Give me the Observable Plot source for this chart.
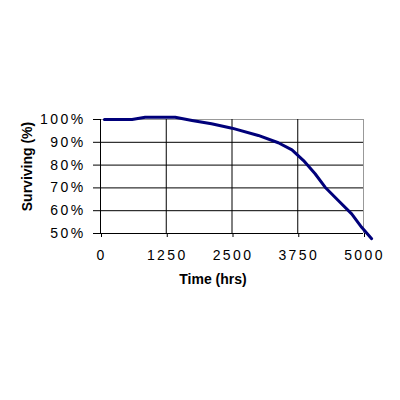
<!DOCTYPE html>
<html>
<head>
<meta charset="utf-8">
<script src="https://cdn.jsdelivr.net/npm/d3@7"></script>
<script src="https://cdn.jsdelivr.net/npm/@observablehq/plot@0.6"></script>
<style>
  html, body { margin: 0; padding: 0; background: #fff; }
  #chart svg { display: block; }
  #chart g[aria-label$="tick label"] text { letter-spacing: 2.4px; }
</style>
</head>
<body>
<div id="chart"></div>
<script>
const timeHrs = [75, 600, 850, 1420, 1740, 2110, 2500, 3000, 3380, 3640, 3860, 4080, 4270, 4520, 4775, 4965, 5155];
const surviving = [100, 100, 101, 101, 99.6, 98.1, 96.2, 93, 89.8, 86.7, 82, 76.2, 70.3, 64.5, 58.6, 52.7, 47.7];
const xTicks = [0, 1250, 2500, 3750, 5000];
const yTicks = [50, 60, 70, 80, 90, 100];
const xLabel = "Time (hrs)";
const yLabel = "Surviving (%)";

const data = timeHrs.map((t, i) => ({t, v: surviving[i]}));
const font = "Liberation Sans, Arial, sans-serif";

const chart = Plot.plot({
  width: 400,
  height: 400,
  marginLeft: 100,
  marginRight: 37,
  marginTop: 119,
  marginBottom: 167,
  style: {fontFamily: font, fontSize: "13px", color: "#000", background: "#fff"},
  x: {domain: [0, 5000]},
  y: {domain: [50, 100]},
  marks: [
    Plot.ruleY(yTicks.filter(d => d > 50 && d < 100), {stroke: "#000", strokeWidth: 1}),
    Plot.ruleY([100], {stroke: "#999", strokeWidth: 1}),
    Plot.ruleX(xTicks.filter(d => d > 0 && d < 5000), {stroke: "#000", strokeWidth: 1}),
    Plot.ruleX([5000], {stroke: "#999", strokeWidth: 1}),
    Plot.axisX({ticks: xTicks, tickSize: 4, tickPadding: 13, tickFormat: d => String(d), label: null, fontSize: 14, fill: "#000", dx: 1}),
    Plot.axisY({ticks: yTicks, tickSize: 7, tickPadding: 8, tickFormat: d => d + "%", label: null, fontSize: 14, fill: "#000"}),
    Plot.ruleX([0], {stroke: "#000", strokeWidth: 1}),
    Plot.ruleY([50], {stroke: "#000", strokeWidth: 1}),
    Plot.line(data, {x: "t", y: "v", stroke: "#00007a", strokeWidth: 3, strokeLinejoin: "round"}),
    Plot.text([xLabel], {frameAnchor: "bottom", dx: -19, dy: 46, lineAnchor: "middle", textAnchor: "middle", fontWeight: "bold", fontSize: 14, fill: "#000"}),
    Plot.text([yLabel], {frameAnchor: "left", dx: -73, dy: -10, rotate: -90, lineAnchor: "middle", textAnchor: "middle", fontWeight: "bold", fontSize: 14, fill: "#000"})
  ]
});
document.getElementById("chart").appendChild(chart);
</script>
</body>
</html>
